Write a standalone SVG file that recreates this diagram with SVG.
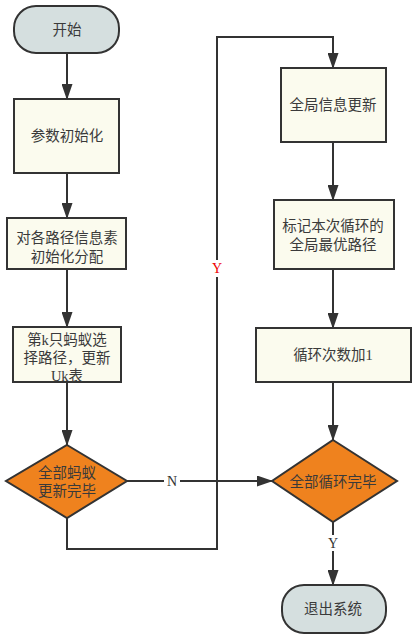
<svg xmlns="http://www.w3.org/2000/svg" width="415" height="637" viewBox="0 0 415 637">
<style>
.n{stroke:#333;stroke-width:2}
.term{fill:#d5dfdf}
.box{fill:#fbfbee}
.dia{fill:#ef821e}
.t{font-family:"Liberation Serif","Noto Sans CJK SC",serif;font-size:14.5px;fill:#3a3a3a;text-anchor:middle}
.c{fill:none;stroke:#333;stroke-width:2}
.lb{font-family:"Liberation Serif",serif;font-size:14px;text-anchor:middle}
</style>
<defs>
<marker id="ah" markerWidth="16" markerHeight="11" refX="15" refY="5.5" orient="auto" markerUnits="userSpaceOnUse" viewBox="0 0 16 11">
<path d="M0,0 L16,5.5 L0,11 Z" fill="#333"/>
</marker>
</defs>
<rect width="415" height="637" fill="#fff"/>
<g id="connectors">
<line class="c" x1="67" y1="53" x2="67" y2="99" marker-end="url(#ah)"/>
<line class="c" x1="67" y1="173" x2="67" y2="218" marker-end="url(#ah)"/>
<line class="c" x1="67" y1="269" x2="67" y2="327" marker-end="url(#ah)"/>
<line class="c" x1="67" y1="382" x2="67" y2="445" marker-end="url(#ah)"/>
<path class="c" d="M127,481 L272,481" marker-end="url(#ah)"/>
<path class="c" d="M67,518 L67,549 L217,549 L217,37 L333,37 L333,68" marker-end="url(#ah)"/>
<line class="c" x1="333" y1="142" x2="333" y2="200" marker-end="url(#ah)"/>
<line class="c" x1="333" y1="269" x2="333" y2="328" marker-end="url(#ah)"/>
<line class="c" x1="333" y1="382" x2="333" y2="440" marker-end="url(#ah)"/>
<line class="c" x1="333" y1="522" x2="333" y2="585" marker-end="url(#ah)"/>
<rect x="164" y="473" width="16" height="16" fill="#fff"/>
<text class="lb" x="172" y="486" fill="#333">N</text>
<rect x="210" y="260" width="14" height="17" fill="#fff"/>
<text class="lb" x="217" y="273" fill="#e00">Y</text>
<rect x="326" y="535" width="14" height="16" fill="#fff"/>
<text class="lb" x="333" y="548" fill="#333">Y</text>
</g>
<g id="start">
<rect class="n term" x="14" y="6" width="105" height="47" rx="22"/>
<text class="t" x="67" y="35">开始</text>
</g>
<g id="init">
<rect class="n box" x="14" y="99" width="105" height="74"/>
<text class="t" x="67" y="141">参数初始化</text>
</g>
<g id="pher">
<rect class="n box" x="7" y="218" width="119" height="51"/>
<text class="t" x="67" y="243">对各路径信息素</text>
<text class="t" x="67" y="262">初始化分配</text>
</g>
<g id="ant">
<rect class="n box" x="13" y="327" width="108" height="55"/>
<text class="t" x="67" y="345">第k只蚂蚁选</text>
<text class="t" x="67" y="363">择路径，更新</text>
<text class="t" x="67" y="381">Uk表</text>
</g>
<g id="dec1">
<polygon class="n dia" points="67,445 127,481 67,518 6,481"/>
<text class="t" x="67" y="478">全部蚂蚁</text>
<text class="t" x="67" y="496">更新完毕</text>
</g>
<g id="global">
<rect class="n box" x="281" y="68" width="105" height="74"/>
<text class="t" x="333" y="110">全局信息更新</text>
</g>
<g id="mark">
<rect class="n box" x="274" y="200" width="120" height="69"/>
<text class="t" x="333" y="231">标记本次循环的</text>
<text class="t" x="333" y="250">全局最优路径</text>
</g>
<g id="inc">
<rect class="n box" x="256" y="328" width="155" height="54"/>
<text class="t" x="333" y="360">循环次数加1</text>
</g>
<g id="dec2">
<polygon class="n dia" points="333,440 397,481 333,522 272,481"/>
<text class="t" x="333" y="487">全部循环完毕</text>
</g>
<g id="exit">
<rect class="n term" x="282" y="585" width="104" height="48" rx="22"/>
<text class="t" x="333" y="614">退出系统</text>
</g>
</svg>
